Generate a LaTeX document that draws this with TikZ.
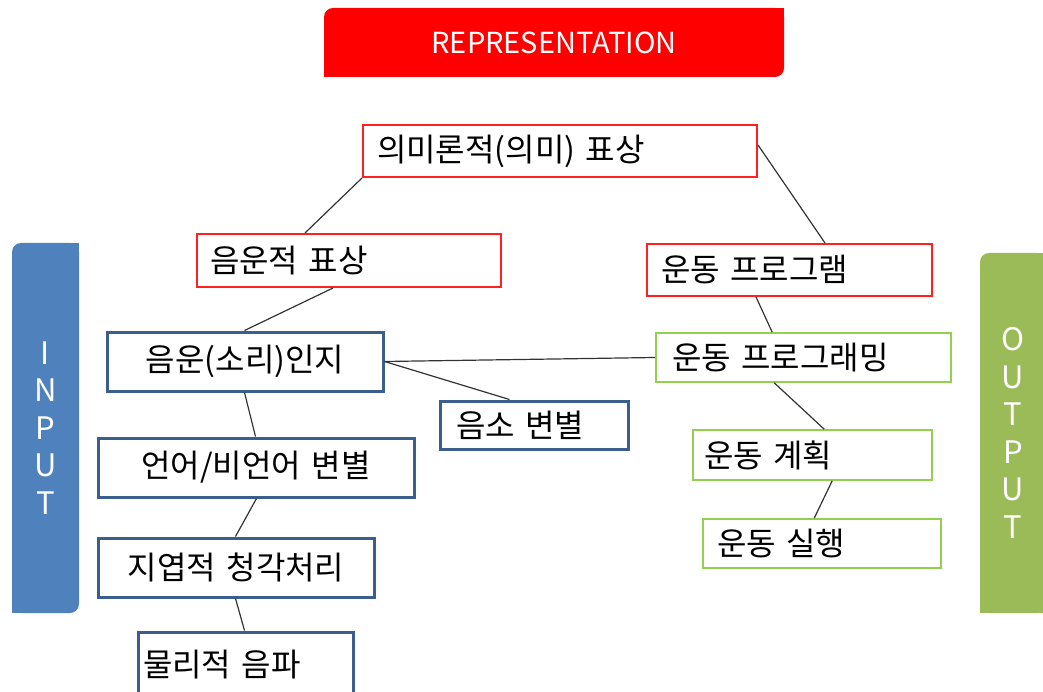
\documentclass[tikz,border=0pt]{standalone}
\usepackage{fontspec}
\newfontfamily\kr{Noto Sans CJK KR}
\usetikzlibrary{calc}
\definecolor{redb}{HTML}{FF2020}
\definecolor{blueb}{HTML}{3A5F8E}
\definecolor{greenb}{HTML}{92D050}
\definecolor{inblue}{HTML}{4F81BD}
\definecolor{outgreen}{HTML}{9BBB59}
\definecolor{repred}{HTML}{FF0000}
\definecolor{connc}{HTML}{333333}
\tikzset{
  kbox/.style={draw, fill=white, rectangle, font=\kr\fontsize{32}{38}\selectfont, inner ysep=0pt, text=black},
  redbox/.style={kbox, draw=redb, line width=2pt},
  bluebox/.style={kbox, draw=blueb, line width=3pt},
  greenbox/.style={kbox, draw=greenb, line width=1.6pt},
  conn/.style={draw=connc, line width=1.2pt},
  bar/.style={rectangle, rounded corners=9pt, inner sep=0pt, text=white, align=center, font=\kr\fontsize{31}{37.5}\selectfont},
}
\begin{document}
\begin{tikzpicture}[x=1pt,y=-1pt]
\useasboundingbox (0,0) rectangle (1043,692);
% title and side bars
\node[bar, fill=repred, minimum width=460pt, minimum height=69pt, font=\kr\fontsize{29}{34}\selectfont] (rep) at (554,42.5) {REPRESENTATION};
\fill[repred] (rep.north east) rectangle ++(-12,12);
\fill[repred] (rep.south west) rectangle ++(12,-12);
\node[bar, fill=inblue, minimum width=67pt, minimum height=370pt] (input) at (45.5,428) {I\\N\\P\\U\\T};
\fill[inblue] (input.north east) rectangle ++(-12,12);
\fill[inblue] (input.south west) rectangle ++(12,-12);
\node[bar, fill=outgreen, minimum width=66pt, minimum height=360pt] (output) at (1013,433) {O\\U\\T\\P\\U\\T};
\fill[outgreen] (output.north east) rectangle ++(-12,12);
\fill[outgreen] (output.south east) rectangle ++(-12,-12);
\fill[outgreen] (output.south west) rectangle ++(12,-12);
% boxes
\node[redbox, align=left, text width=366pt, inner xsep=14pt, minimum height=52pt] (sem) at (560,151) {\mbox{의미론적(의미) 표상}};
\node[redbox, align=left, text width=278pt, inner xsep=13pt, minimum height=53pt] (pho) at (349,260.5) {\mbox{음운적 표상}};
\node[redbox, align=left, text width=257pt, inner xsep=14pt, minimum height=52pt] (mprog) at (789.5,270) {\mbox{운동 프로그램}};
\node[bluebox, align=center, text width=276pt, inner xsep=0pt, minimum height=59pt] (perc) at (245,361.5) {\mbox{음운(소리)인지}};
\node[bluebox, align=left, text width=156pt, inner xsep=16pt, minimum height=48pt] (phon) at (534,425) {\mbox{음소 변별}};
\node[bluebox, align=center, text width=316pt, inner xsep=0pt, minimum height=59pt] (lang) at (256,467.5) {\mbox{언어/비언어 변별}};
\node[bluebox, align=center, text width=276pt, inner xsep=0pt, minimum height=59pt] (local) at (236,567.5) {\mbox{지엽적 청각처리}};
\node[bluebox, align=left, text width=205pt, inner xsep=5pt, minimum height=65pt] (phys) at (245.5,664.5) {\mbox{물리적 음파}};
\node[greenbox, align=left, text width=263pt, inner xsep=16pt, minimum height=49pt] (mprg2) at (803.5,357.5) {\mbox{운동 프로그래밍}};
\node[greenbox, align=left, text width=217pt, inner xsep=11pt, minimum height=50pt] (mplan) at (812.5,455) {\mbox{운동 계획}};
\node[greenbox, align=left, text width=210pt, inner xsep=14pt, minimum height=49pt] (mexec) at (822,543.5) {\mbox{운동 실행}};
% connectors
\draw[conn] (sem.south west) -- ($(pho.north west)+(109,0)$);
\draw[conn] ($(sem.north east)+(0,21)$) -- ($(mprog.north west)+(179,0)$);
\draw[conn] ($(pho.south west)+(137,0)$) -- ($(perc.north west)+(139,0)$);
\draw[conn] ($(mprog.south west)+(110,0)$) -- ($(mprg2.north west)+(117,0)$);
\draw[conn] (perc.east) -- (mprg2.west);
\draw[conn] (perc.east) -- ($(phon.north west)+(71,0)$);
\draw[conn] ($(perc.south west)+(139,0)$) -- ($(lang.north west)+(159,0)$);
\draw[conn] ($(lang.south west)+(160,0)$) -- ($(local.north west)+(139,0)$);
\draw[conn] ($(local.south west)+(139,0)$) -- ($(phys.north west)+(108,0)$);
\draw[conn] ($(mprg2.south west)+(119,0)$) -- ($(mplan.north west)+(132,0)$);
\draw[conn] ($(mplan.south west)+(140,0)$) -- ($(mexec.north west)+(112,0)$);
\end{tikzpicture}
\end{document}
